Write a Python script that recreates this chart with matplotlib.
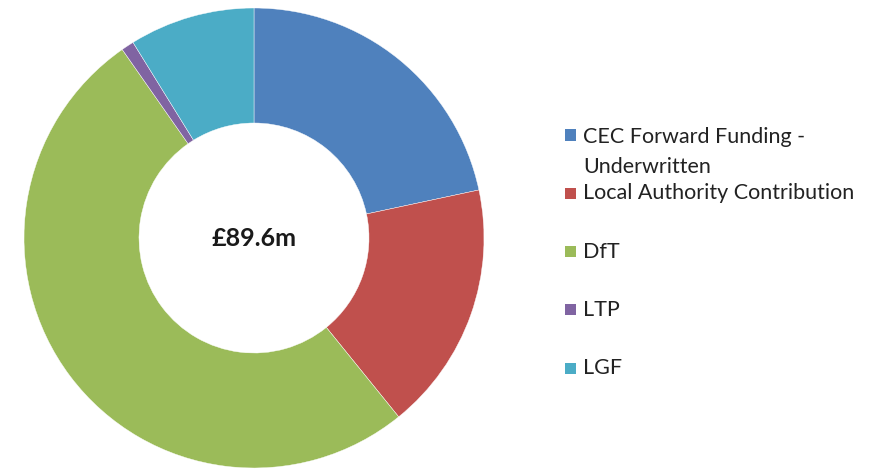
import matplotlib
matplotlib.use("Agg")
import matplotlib.pyplot as plt
import numpy as np

categories = ["CEC Forward Funding -\nUnderwritten", "Local Authority Contribution", "DfT", "LTP", "LGF"]
values = [19.4, 15.7, 45.8, 0.8, 7.9]
colors = ["#4F81BD", "#C0504D", "#9BBB59", "#8064A2", "#4BACC6"]
center_label = "£89.6m"

W, H = 886, 472
fig = plt.figure(figsize=(W / 100, H / 100), dpi=100)
fig.patch.set_facecolor("white")

cx, cy, r = 254, 238, 230
ax = fig.add_axes([(cx - r) / W, (H - cy - r) / H, 2 * r / W, 2 * r / H])
ax.pie(values, colors=colors, startangle=90, counterclock=False, radius=1,
       wedgeprops=dict(width=0.5, edgecolor="white", linewidth=0.3))
ax.set_xlim(-1, 1)
ax.set_ylim(-1, 1)
ax.set_aspect("equal")
ax.axis("off")
ax.text(0, 0, center_label, ha="center", va="center", fontsize=18,
        fontweight="bold", family="Lato", color="#1a1a1a")

# legend
ys = np.linspace(135, 368, len(categories))
for lab, col, y in zip(categories, colors, ys):
    fig.patches.append(plt.Rectangle((565 / W, (H - y - 5.5) / H), 11 / W, 11 / H,
                                     transform=fig.transFigure, facecolor=col,
                                     edgecolor="none"))
    ty = y + 17 if "\n" in lab else y
    fig.text(583 / W, (H - ty) / H, lab, ha="left", va="center",
             fontsize=15.5, family="Lato", color="#222222", linespacing=1.65)

fig.savefig("out.png", dpi=100)
